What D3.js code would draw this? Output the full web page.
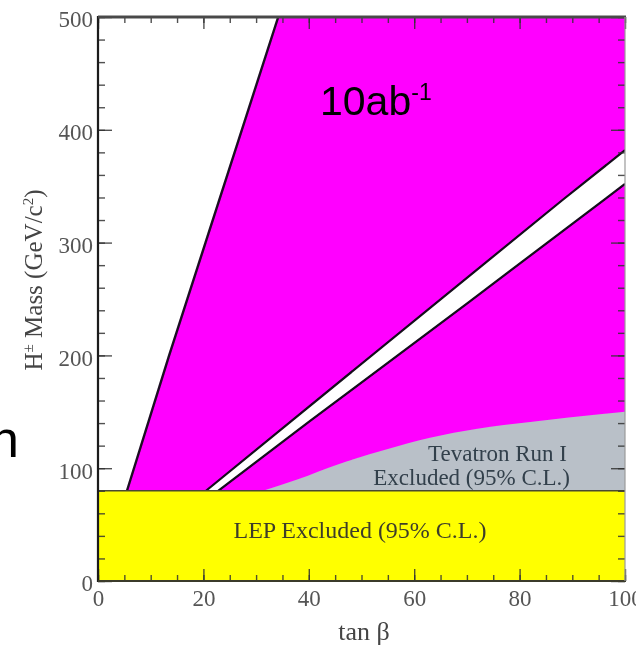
<!DOCTYPE html>
<html>
<head>
<meta charset="utf-8">
<script src="https://cdn.jsdelivr.net/npm/d3@7"></script>
<style>
  html, body { margin: 0; padding: 0; background: #fff; }
  svg { display: block; }
</style>
</head>
<body>
<svg id="chart" width="636" height="651"></svg>
<script>
// Charged Higgs reach in the (tan beta, M_H±) plane

// LEP lower mass limit (GeV/c^2)
const lepLimit = 80;

// Left edge of the 10 ab^-1 reach region
const reachTanB = [5.5, 13.5, 20.4, 27.3, 34.2];
const reachMass = [80, 200, 300, 400, 500];

// Upper edge of the uncovered wedge
const gapUpperTanB = [20.5, 38.3, 88.2, 100];
const gapUpperMass = [80, 148, 338, 382];

// Lower edge of the uncovered wedge
const gapLowerTanB = [22.8, 40, 70, 100];
const gapLowerMass = [80, 141, 246, 352];

// Tevatron Run I exclusion boundary
const tevTanB = [31.3, 37.8, 45.9, 55, 63, 72, 82, 100];
const tevMass = [80, 90, 104, 117, 127, 135, 141, 150];

// Axis ticks
const xMajor = [0, 20, 40, 60, 80, 100];
const xMinor = d3.range(0, 101, 5);
const yMajor = [0, 100, 200, 300, 400, 500];
const yMinor = d3.range(0, 501, 20);

const svg = d3.select("#chart");
const L = 98, T = 17, R = 625, B = 581;

const x = d3.scaleLinear().domain([0, 100]).range([L, R]);
const y = d3.scaleLinear().domain([0, 500]).range([B, T]);

const defs = svg.append("defs");
defs.append("clipPath").attr("id", "plotClip")
  .append("rect").attr("x", L).attr("y", T).attr("width", R - L).attr("height", B - T);
defs.append("filter").attr("id", "soft")
  .attr("x", "-5%").attr("y", "-5%").attr("width", "110%").attr("height", "110%")
  .append("feGaussianBlur").attr("stdDeviation", 0.7);

const chart = svg.append("g").attr("filter", "url(#soft)");
const plot = chart.append("g").attr("clip-path", "url(#plotClip)");

const zip = (a, b) => a.map((v, i) => [v, b[i]]);
const line = d3.line().x(d => x(d[0])).y(d => y(d[1]));

// Reach region (magenta): right of the left boundary, above LEP
const reachPts = zip(reachTanB, reachMass);
plot.append("path")
  .attr("d", line(reachPts.concat([[100, 500], [100, lepLimit]])) + "Z")
  .attr("fill", "#ff00ff");
plot.append("path")
  .attr("d", line(reachPts))
  .attr("fill", "none").attr("stroke", "#1a0a22").attr("stroke-width", 2.4);

// Uncovered wedge (white) with black edges
const upper = zip(gapUpperTanB, gapUpperMass);
const lower = zip(gapLowerTanB, gapLowerMass);
plot.append("path")
  .attr("d", line(upper.concat(lower.slice().reverse())) + "Z")
  .attr("fill", "#fff");
[upper, lower].forEach(pts => {
  plot.append("path").attr("d", line(pts))
    .attr("fill", "none").attr("stroke", "#12081a").attr("stroke-width", 2.2);
});

// Tevatron Run I excluded region
const tevLine = d3.line().x(d => x(d[0])).y(d => y(d[1])).curve(d3.curveMonotoneX);
const tevPts = zip(tevTanB, tevMass);
plot.append("path")
  .attr("d", tevLine(tevPts) + `L${x(100)},${y(lepLimit)}L${x(tevTanB[0])},${y(lepLimit)}Z`)
  .attr("fill", "#b9c0c8");

// LEP excluded band
plot.append("rect")
  .attr("x", x(0)).attr("y", y(lepLimit))
  .attr("width", x(100) - x(0)).attr("height", y(0) - y(lepLimit))
  .attr("fill", "#ffff00");
plot.append("line")
  .attr("x1", x(0)).attr("x2", x(100))
  .attr("y1", y(lepLimit)).attr("y2", y(lepLimit))
  .attr("stroke", "#4a4a30").attr("stroke-width", 1.6);

// Region labels
const serif = "'Liberation Serif', 'Times New Roman', serif";
plot.append("text")
  .attr("x", 360).attr("y", 538)
  .attr("text-anchor", "middle")
  .attr("font-family", serif).attr("font-size", 24)
  .attr("fill", "#3e3e2a")
  .text("LEP Excluded (95% C.L.)");
const tevLabel = plot.append("text")
  .attr("text-anchor", "end")
  .attr("font-family", serif).attr("font-size", 23)
  .attr("fill", "#33404c");
tevLabel.append("tspan").attr("x", 567).attr("y", 461).text("Tevatron Run I");
tevLabel.append("tspan").attr("x", 570).attr("y", 485).text("Excluded (95% C.L.)");

// Axes with inward ticks
function styleAxis(g) {
  g.select(".domain").remove();
  g.selectAll(".tick line").attr("stroke", "#333").attr("stroke-width", 1.4).attr("stroke-opacity", 0.85);
  g.selectAll(".tick text")
    .attr("font-family", serif).attr("font-size", 23).attr("fill", "#555");
}
const noLabel = () => "";

chart.append("g").attr("transform", `translate(0,${B})`)
  .call(d3.axisBottom(x).tickValues(xMinor).tickSize(-6).tickFormat(noLabel)).call(styleAxis);
chart.append("g").attr("transform", `translate(0,${B})`)
  .call(d3.axisBottom(x).tickValues(xMajor).tickSize(-12).tickPadding(9).tickFormat(d3.format("d")))
  .call(styleAxis);
chart.append("g").attr("transform", `translate(0,${T})`)
  .call(d3.axisTop(x).tickValues(xMinor).tickSize(-6).tickFormat(noLabel)).call(styleAxis);
chart.append("g").attr("transform", `translate(0,${T})`)
  .call(d3.axisTop(x).tickValues(xMajor).tickSize(-12).tickFormat(noLabel)).call(styleAxis);

chart.append("g").attr("transform", `translate(${L},0)`)
  .call(d3.axisLeft(y).tickValues(yMinor).tickSize(-7).tickFormat(noLabel)).call(styleAxis);
const yAx = chart.append("g").attr("transform", `translate(${L},0)`)
  .call(d3.axisLeft(y).tickValues(yMajor).tickSize(-14).tickPadding(5).tickFormat(d3.format("d")))
  .call(styleAxis);
yAx.selectAll(".tick text").attr("dy", "0.43em");
chart.append("g").attr("transform", `translate(${R},0)`)
  .call(d3.axisRight(y).tickValues(yMinor).tickSize(-7).tickFormat(noLabel)).call(styleAxis);
chart.append("g").attr("transform", `translate(${R},0)`)
  .call(d3.axisRight(y).tickValues(yMajor).tickSize(-14).tickFormat(noLabel)).call(styleAxis);

// Frame
chart.append("line").attr("x1", L).attr("x2", L).attr("y1", T - 1).attr("y2", B + 1)
  .attr("stroke", "#1b1b1b").attr("stroke-width", 2.2);
chart.append("line").attr("x1", L).attr("x2", R + 1).attr("y1", T).attr("y2", T)
  .attr("stroke", "#4a4a4a").attr("stroke-width", 2.8);
chart.append("line").attr("x1", L).attr("x2", R + 1).attr("y1", B).attr("y2", B)
  .attr("stroke", "#3a3a2a").attr("stroke-width", 2);
chart.append("line").attr("x1", R).attr("x2", R).attr("y1", T).attr("y2", B)
  .attr("stroke", "#9a9a9a").attr("stroke-width", 1.2);

// Axis titles
chart.append("text")
  .attr("x", 364).attr("y", 640)
  .attr("text-anchor", "middle")
  .attr("font-family", serif).attr("font-size", 26).attr("fill", "#444")
  .text("tan β");
const yTitle = chart.append("text")
  .attr("transform", "translate(42,280) rotate(-90)")
  .attr("text-anchor", "middle")
  .attr("font-family", serif).attr("font-size", 25).attr("fill", "#444");
yTitle.append("tspan").text("H");
yTitle.append("tspan").attr("font-size", 15).attr("dy", -9).text("±");
yTitle.append("tspan").attr("dy", 9).text(" Mass (GeV/c");
yTitle.append("tspan").attr("font-size", 15).attr("dy", -9).text("2");
yTitle.append("tspan").attr("dy", 9).text(")");

// Luminosity annotation
const sans = "'Liberation Sans', Arial, sans-serif";
const lumi = svg.append("text")
  .attr("x", 320).attr("y", 115)
  .attr("font-family", sans).attr("font-size", 41).attr("fill", "#000");
lumi.append("tspan").text("10ab");
lumi.append("tspan").attr("font-size", 23).attr("dy", -15).text("-1");

svg.append("text")
  .attr("x", -10).attr("y", 457)
  .attr("font-family", sans).attr("font-size", 52).attr("fill", "#000")
  .text("n");
</script>
</body>
</html>
